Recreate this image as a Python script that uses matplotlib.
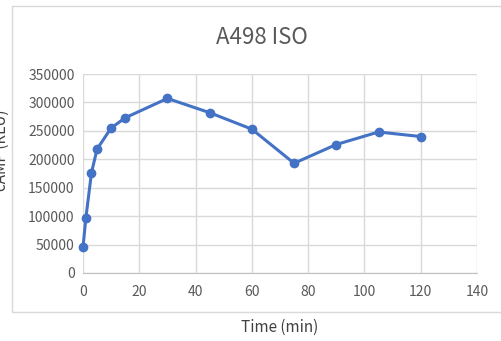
import matplotlib.pyplot as plt
from matplotlib.patches import Rectangle

plt.rcParams['font.family'] = ['Noto Sans CJK JP', 'DejaVu Sans']

time_min = [0, 1, 3, 5, 10, 15, 30, 45, 60, 75, 90, 105, 120]
camp_rlu = [45000, 96000, 176000, 218000, 255000, 273000, 307000,
            282000, 253000, 193000, 226000, 248000, 240000]
x_ticks = [0, 20, 40, 60, 80, 100, 120, 140]
y_ticks = [0, 50000, 100000, 150000, 200000, 250000, 300000, 350000]

W, H = 501, 341
fig = plt.figure(figsize=(W / 100, H / 100), dpi=100)
ax = fig.add_axes([83 / W, 1 - 273 / H, (477 - 83) / W, (273 - 74) / H])

# chart area border (cut on the right like the screenshot)
fig.patches.append(Rectangle((12 / W, 1 - 312 / H), 1.2, (312 - 6) / H,
                             transform=fig.transFigure, fill=False,
                             edgecolor='#d9d9d9', linewidth=1))

ax.plot(time_min, camp_rlu, color='#4472C4', linewidth=2.2,
        marker='o', markersize=6, zorder=3, clip_on=False)

ax.set_xlim(0, 140)
ax.set_ylim(0, 350000)
ax.set_xticks(x_ticks)
ax.set_yticks(y_ticks)
ax.grid(True, color='#d9d9d9', linewidth=1)
ax.set_axisbelow(True)
for s in ['top', 'right', 'left']:
    ax.spines[s].set_visible(False)
ax.spines['bottom'].set_color('#bfbfbf')
ax.tick_params(length=0, labelsize=10, labelcolor='#595959', pad=6)
ax.tick_params(axis='x', pad=9)

fig.text(262 / W, 1 - 37 / H, 'A498 ISO', ha='center', va='center',
         fontsize=16, color='#595959')
fig.text(280 / W, 1 - 327 / H, 'Time (min)', ha='center', va='center',
         fontsize=11, color='#404040')
fig.text(1 / W, 1 - 150 / H, 'cAMP (RLU)', ha='center', va='center',
         rotation=90, fontsize=11, color='#404040')

fig.savefig('out.png', dpi=100)
